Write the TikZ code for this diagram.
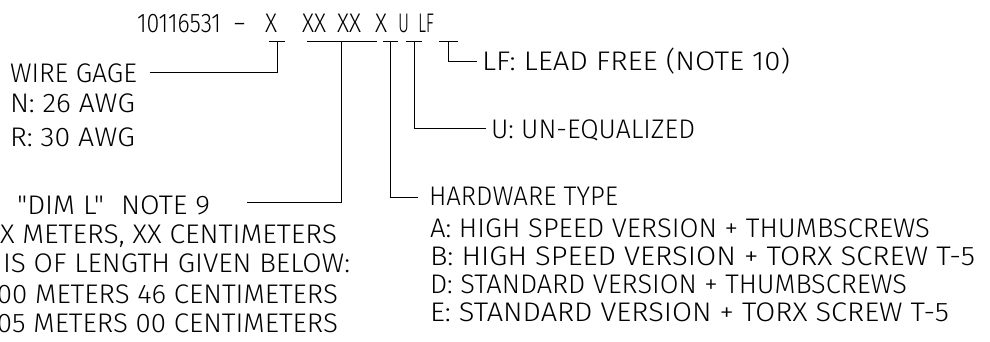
\documentclass[tikz,border=0pt]{standalone}
\usepackage{fontspec}
\usepackage{graphicx}
\newfontfamily\cadfont{Fira Sans Light}
\newcommand\fw[2]{\resizebox{#1pt}{\height}{#2}}
\tikzset{
  txt/.style={inner sep=0pt, outer sep=0pt, anchor=base west,
    font=\cadfont\fontsize{26.9}{30}\selectfont},
  conn/.style={line width=1pt, draw=black}
}
\begin{document}
\begin{tikzpicture}[x=1pt,y=-1pt]
\useasboundingbox (0,0) rectangle (990,342);
\clip (0,0) rectangle (990,342);
\fill[white] (0,0) rectangle (990,342);

% part number
\node[txt] (pn)  at (137,32.5) {\fw{84}{10116531}};
\node[txt] (dsh) at (234,32.5) {\fw{11}{–}};
\node[txt] (px1) at (265,32.5) {\fw{12}{X}};
\node[txt] (px2) at (302,32.5) {\fw{24}{XX}};
\node[txt] (px3) at (337,32.5) {\fw{24}{XX}};
\node[txt] (px4) at (375,32.5) {\fw{12}{X}};
\node[txt] (pu)  at (398,32.5) {\fw{11}{U}};
\node[txt] (plf) at (418,32.5) {\fw{16}{LF}};

% left texts
\node[txt] (wg)  at (10,82.5)  {\fw{127}{WIRE GAGE}};
\node[txt] (wgn) at (10,113)   {\fw{125}{N: 26 AWG}};
\node[txt] (wgr) at (10,146.5) {\fw{125}{R: 30 AWG}};

\node[txt] (dl)  at (17,214)   {\fw{193}{"DIM L"\hspace{0.6em}NOTE 9}};
\node[txt] (dl1) at (0,243)    {\fw{337}{X METERS, XX CENTIMETERS}};
\node[txt] (dl2) at (3,272.5)  {\fw{347}{IS OF LENGTH GIVEN BELOW:}};
\node[txt] (dl3) at (-3,303)   {\fw{341}{00 METERS 46 CENTIMETERS}};
\node[txt] (dl4) at (-3,332)   {\fw{341}{05 METERS 00 CENTIMETERS}};

% right texts
\node[txt] (lf)  at (482,71)   {\fw{308}{LF: LEAD FREE (NOTE 10)}};
\node[txt] (ue)  at (491,138.5){\fw{204}{U: UN-EQUALIZED}};
\node[txt] (hw)  at (429,205)  {\fw{189}{HARDWARE TYPE}};
\node[txt] (hwa) at (430,237)  {\fw{500}{A: HIGH SPEED VERSION + THUMBSCREWS}};
\node[txt] (hwb) at (430,265)  {\fw{545}{B: HIGH SPEED VERSION + TORX SCREW T-5}};
\node[txt] (hwd) at (430,293)  {\fw{477}{D: STANDARD VERSION + THUMBSCREWS}};
\node[txt] (hwe) at (430,321)  {\fw{519}{E: STANDARD VERSION + TORX SCREW T-5}};

% connector points
\coordinate (t1a) at (269,42); \coordinate (t1b) at (285,42); \coordinate (t1m) at (277,42);
\coordinate (e1)  at (150,72.5);
\coordinate (t2a) at (307,42); \coordinate (t2b) at (377,42); \coordinate (t2m) at (341,42);
\coordinate (e2)  at (247,202);
\coordinate (t3a) at (383,42); \coordinate (t3b) at (398,42); \coordinate (t3m) at (390,42);
\coordinate (e3)  at (418,197);
\coordinate (t4a) at (406,42); \coordinate (t4b) at (422,42); \coordinate (t4m) at (414,42);
\coordinate (e4)  at (486,129);
\coordinate (t5a) at (439,42); \coordinate (t5b) at (458,42); \coordinate (t5m) at (448,42);
\coordinate (e5)  at (477,62);

\draw[conn] (t1a) -- (t1b); \draw[conn] (t1m) |- (e1);
\draw[conn] (t2a) -- (t2b); \draw[conn] (t2m) |- (e2);
\draw[conn] (t3a) -- (t3b); \draw[conn] (t3m) |- (e3);
\draw[conn] (t4a) -- (t4b); \draw[conn] (t4m) |- (e4);
\draw[conn] (t5a) -- (t5b); \draw[conn] (t5m) |- (e5);
\end{tikzpicture}
\end{document}
